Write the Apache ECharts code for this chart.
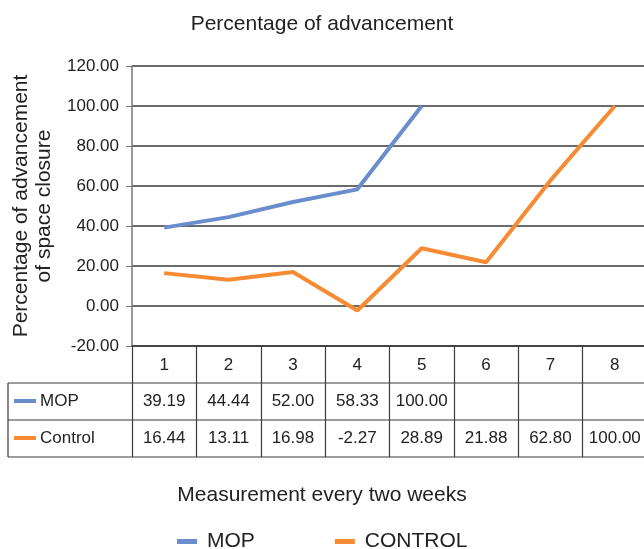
<!DOCTYPE html>
<html><head><meta charset="utf-8">
<script src="https://cdn.jsdelivr.net/npm/echarts@6/dist/echarts.min.js"></script>
<style>html,body{margin:0;padding:0;background:#fff}#c{width:644px;height:549px}</style>
</head><body><div id="c"></div>
<script>
var categories = ['1','2','3','4','5','6','7','8'];
var mopValues = [39.19, 44.44, 52.00, 58.33, 100.00, null, null, null];
var controlValues = [16.44, 13.11, 16.98, -2.27, 28.89, 21.88, 62.80, 100.00];
var yTicks = {min: -20, max: 120, interval: 20};

var FONT = '"Liberation Sans", Arial, sans-serif';
var BLUE = '#6a8ecd', ORANGE = '#f78b33', GRID = '#3a3a3a', TXT = '#222';

function fmt(v){ return (v === null || v === undefined) ? '' : v.toFixed(2); }

var chart = echarts.init(document.getElementById('c'));
var tableAxisBase = {
  type: 'category', data: categories, position: 'bottom', gridIndex: 0,
  axisLine: {show: false, onZero: false}, axisTick: {show: false}, splitLine: {show: false},
  axisLabel: {fontSize: 17, color: TXT, fontFamily: FONT, margin: 10, interval: 0}
};
var option = {
  animation: false,
  title: [
    {text: 'Percentage of advancement', left: 'center', top: 9,
     textStyle: {fontSize: 21, fontWeight: 'normal', color: TXT, fontFamily: FONT}},
    {text: 'Measurement every two weeks', left: 'center', top: 480,
     textStyle: {fontSize: 21, fontWeight: 'normal', color: TXT, fontFamily: FONT}}
  ],
  legend: {
    data: ['MOP', 'CONTROL'], left: 172, top: 526, icon: 'rect',
    itemWidth: 20, itemHeight: 5, itemGap: 80,
    textStyle: {fontSize: 21, color: TXT, fontFamily: FONT, padding: [0, 0, 0, 5]}
  },
  grid: {left: 132, top: 66, width: 515, height: 280, containLabel: false, outerBoundsMode: 'none'},
  xAxis: [
    {type: 'category', data: categories, boundaryGap: true,
     axisLine: {show: true, onZero: false, lineStyle: {color: GRID, width: 1.5}},
     axisTick: {show: true, alignWithLabel: false, length: 111, interval: 0,
                lineStyle: {color: GRID, width: 1.2}},
     axisLabel: {fontSize: 17, color: TXT, fontFamily: FONT, margin: 11, interval: 0}},
    Object.assign({}, tableAxisBase, {offset: 37, axisLabel: Object.assign({}, tableAxisBase.axisLabel,
      {formatter: function(v, i){ return fmt(mopValues[i]); }})}),
    Object.assign({}, tableAxisBase, {offset: 74, axisLabel: Object.assign({}, tableAxisBase.axisLabel,
      {formatter: function(v, i){ return fmt(controlValues[i]); }})})
  ],
  yAxis: {
    type: 'value', min: yTicks.min, max: yTicks.max, interval: yTicks.interval,
    name: 'Percentage of advancement\nof space closure', nameLocation: 'middle',
    nameRotate: 90, nameGap: 75,
    nameTextStyle: {fontSize: 21, color: TXT, fontFamily: FONT, lineHeight: 23},
    axisLine: {show: true, lineStyle: {color: '#777', width: 1.5}},
    axisTick: {show: true, length: 6, lineStyle: {color: '#777'}},
    axisLabel: {fontSize: 17, color: TXT, fontFamily: FONT, margin: 13,
                formatter: function(v){ return v.toFixed(2); }},
    splitLine: {show: true, lineStyle: {color: GRID, width: 1.5}}
  },
  series: [
    {name: 'MOP', type: 'line', data: mopValues, xAxisIndex: 0,
     symbol: 'none', lineStyle: {color: BLUE, width: 4}, itemStyle: {color: BLUE}},
    {name: 'CONTROL', type: 'line', data: controlValues, xAxisIndex: 0,
     symbol: 'none', lineStyle: {color: ORANGE, width: 4}, itemStyle: {color: ORANGE}}
  ],
  graphic: [
    {type: 'line', shape: {x1: 8, y1: 383, x2: 644, y2: 383}, style: {stroke: GRID, lineWidth: 1.2}},
    {type: 'line', shape: {x1: 8, y1: 420, x2: 644, y2: 420}, style: {stroke: GRID, lineWidth: 1.2}},
    {type: 'line', shape: {x1: 8, y1: 457, x2: 644, y2: 457}, style: {stroke: GRID, lineWidth: 1.2}},
    {type: 'line', shape: {x1: 8, y1: 383, x2: 8, y2: 457}, style: {stroke: GRID, lineWidth: 1.2}},
    {type: 'rect', shape: {x: 14, y: 399, width: 22, height: 4}, style: {fill: BLUE}},
    {type: 'text', left: 40, top: 393, style: {text: 'MOP', fontSize: 17, fill: TXT, fontFamily: FONT}},
    {type: 'rect', shape: {x: 14, y: 436, width: 22, height: 4}, style: {fill: ORANGE}},
    {type: 'text', left: 40, top: 430, style: {text: 'Control', fontSize: 17, fill: TXT, fontFamily: FONT}}
  ]
};
chart.setOption(option);
</script></body></html>
